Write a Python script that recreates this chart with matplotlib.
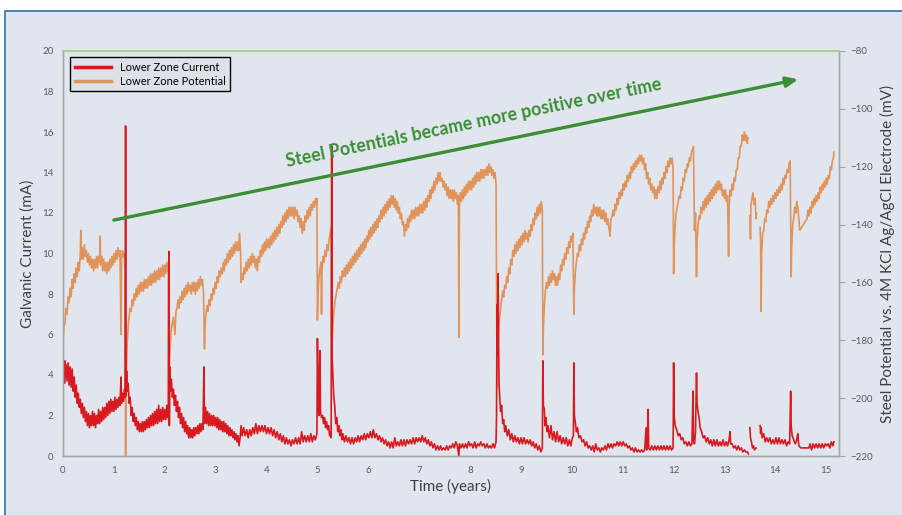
import numpy as np
import matplotlib
matplotlib.use("Agg")
import matplotlib.pyplot as plt
from matplotlib.patches import Rectangle

plt.rcParams["font.family"] = ["Lato", "DejaVu Sans"]

nan = np.nan

# lower zone potential (mV vs Ag/AgCl)
pot_years = [
    0.00, 0.02, 0.04, 0.06, 0.08, 0.10, 0.12, 0.14, 0.16, 0.18, 0.20, 0.22, 0.24, 0.26, 0.28, 0.30, 0.32, 0.34, 0.35, 0.36,
    0.38, 0.40, 0.42, 0.44, 0.46, 0.48, 0.50, 0.52, 0.54, 0.56, 0.58, 0.60, 0.62, 0.64, 0.66, 0.68, 0.70, 0.72, 0.73, 0.74,
    0.76, 0.78, 0.80, 0.82, 0.84, 0.86, 0.88, 0.90, 0.92, 0.94, 0.96, 0.98, 1.00, 1.02, 1.04, 1.06, 1.08, 1.10, 1.12, 1.14,
    1.15, 1.17, 1.18, 1.20, 1.22, 1.23, 1.24, 1.26, 1.28, 1.30, 1.32, 1.34, 1.36, 1.38, 1.40, 1.42, 1.44, 1.46, 1.48, 1.50,
    1.52, 1.54, 1.56, 1.58, 1.60, 1.62, 1.64, 1.66, 1.68, 1.70, 1.72, 1.74, 1.76, 1.78, 1.80, 1.82, 1.84, 1.86, 1.88, 1.90,
    1.92, 1.94, 1.96, 1.98, 2.00, 2.02, 2.04, 2.06, 2.07, 2.08, 2.09, 2.11, 2.13, 2.15, 2.17, 2.19, 2.20, 2.22, 2.24, 2.26,
    2.28, 2.30, 2.32, 2.34, 2.36, 2.38, 2.40, 2.42, 2.44, 2.46, 2.48, 2.50, 2.52, 2.54, 2.56, 2.58, 2.60, 2.62, 2.64, 2.66,
    2.68, 2.70, 2.72, 2.74, 2.76, 2.78, 2.79, 2.81, 2.83, 2.85, 2.87, 2.89, 2.91, 2.93, 2.95, 2.97, 2.99, 3.01, 3.03, 3.05,
    3.07, 3.09, 3.11, 3.13, 3.15, 3.17, 3.19, 3.21, 3.23, 3.25, 3.27, 3.29, 3.31, 3.33, 3.35, 3.37, 3.39, 3.41, 3.43, 3.45,
    3.47, 3.49, 3.50, 3.52, 3.54, 3.56, 3.58, 3.60, 3.62, 3.64, 3.66, 3.68, 3.70, 3.72, 3.74, 3.76, 3.78, 3.80, 3.82, 3.84,
    3.86, 3.88, 3.90, 3.92, 3.94, 3.96, 3.98, 4.00, 4.02, 4.04, 4.06, 4.08, 4.10, 4.12, 4.14, 4.16, 4.18, 4.20, 4.22, 4.24,
    4.26, 4.28, 4.30, 4.32, 4.34, 4.36, 4.38, 4.40, 4.42, 4.44, 4.46, 4.48, 4.50, 4.52, 4.54, 4.56, 4.58, 4.60, 4.62, 4.64,
    4.66, 4.68, 4.70, 4.72, 4.74, 4.76, 4.78, 4.80, 4.82, 4.84, 4.86, 4.88, 4.90, 4.92, 4.94, 4.96, 4.98, 4.99, 5.00, 5.01,
    5.03, 5.05, 5.07, 5.08, 5.09, 5.11, 5.13, 5.15, 5.17, 5.19, 5.21, 5.23, 5.25, 5.27, 5.28, 5.29, 5.31, 5.33, 5.35, 5.37,
    5.39, 5.41, 5.43, 5.45, 5.47, 5.49, 5.51, 5.53, 5.55, 5.57, 5.59, 5.61, 5.63, 5.65, 5.67, 5.69, 5.71, 5.73, 5.75, 5.77,
    5.79, 5.81, 5.83, 5.85, 5.87, 5.89, 5.91, 5.93, 5.95, 5.97, 5.99, 6.01, 6.03, 6.05, 6.07, 6.09, 6.11, 6.13, 6.15, 6.17,
    6.19, 6.21, 6.23, 6.25, 6.27, 6.29, 6.31, 6.33, 6.35, 6.37, 6.39, 6.41, 6.43, 6.45, 6.47, 6.49, 6.51, 6.53, 6.55, 6.57,
    6.59, 6.61, 6.63, 6.65, 6.67, 6.69, 6.71, 6.73, 6.75, 6.77, 6.79, 6.81, 6.83, 6.85, 6.87, 6.89, 6.91, 6.93, 6.95, 6.97,
    6.99, 7.01, 7.03, 7.05, 7.07, 7.09, 7.11, 7.13, 7.15, 7.17, 7.19, 7.21, 7.23, 7.25, 7.27, 7.29, 7.31, 7.33, 7.35, 7.37,
    7.39, 7.41, 7.43, 7.45, 7.47, 7.49, 7.51, 7.53, 7.55, 7.57, 7.59, 7.61, 7.63, 7.65, 7.67, 7.69, 7.71, 7.73, 7.75, 7.77,
    7.78, 7.79, 7.81, 7.83, 7.85, 7.87, 7.89, 7.91, 7.93, 7.95, 7.97, 7.99, 8.01, 8.03, 8.05, 8.07, 8.09, 8.11, 8.13, 8.15,
    8.17, 8.19, 8.21, 8.23, 8.25, 8.27, 8.29, 8.31, 8.33, 8.35, 8.37, 8.39, 8.41, 8.43, 8.45, 8.47, 8.49, 8.51, 8.53, 8.54,
    8.56, 8.58, 8.60, 8.62, 8.64, 8.66, 8.68, 8.70, 8.72, 8.74, 8.76, 8.78, 8.80, 8.82, 8.84, 8.86, 8.88, 8.90, 8.92, 8.94,
    8.96, 8.98, 9.00, 9.02, 9.04, 9.06, 9.08, 9.10, 9.12, 9.14, 9.16, 9.18, 9.20, 9.22, 9.24, 9.26, 9.28, 9.30, 9.32, 9.34,
    9.36, 9.38, 9.40, 9.42, 9.43, 9.44, 9.46, 9.48, 9.50, 9.52, 9.54, 9.56, 9.58, 9.60, 9.62, 9.64, 9.66, 9.68, 9.70, 9.72,
    9.74, 9.76, 9.78, 9.80, 9.82, 9.84, 9.86, 9.88, 9.90, 9.92, 9.94, 9.96, 9.98, 10.00, 10.02, 10.04, 10.05, 10.07, 10.09, 10.11,
    10.13, 10.15, 10.17, 10.19, 10.21, 10.23, 10.25, 10.27, 10.29, 10.31, 10.33, 10.35, 10.37, 10.39, 10.41, 10.43, 10.45, 10.47, 10.49, 10.51,
    10.53, 10.55, 10.57, 10.59, 10.61, 10.63, 10.65, 10.67, 10.69, 10.71, 10.73, 10.75, 10.77, 10.79, 10.81, 10.83, 10.85, 10.87, 10.89, 10.91,
    10.93, 10.95, 10.97, 10.99, 11.01, 11.03, 11.05, 11.07, 11.09, 11.11, 11.13, 11.15, 11.17, 11.19, 11.21, 11.23, 11.25, 11.27, 11.29, 11.31,
    11.33, 11.35, 11.37, 11.39, 11.41, 11.43, 11.45, 11.47, 11.49, 11.51, 11.53, 11.55, 11.57, 11.59, 11.61, 11.63, 11.65, 11.67, 11.69, 11.71,
    11.73, 11.75, 11.77, 11.79, 11.81, 11.83, 11.85, 11.87, 11.89, 11.91, 11.93, 11.95, 11.97, 11.99, 12.00, 12.01, 12.03, 12.05, 12.07, 12.09,
    12.11, 12.13, 12.15, 12.17, 12.19, 12.21, 12.23, 12.25, 12.27, 12.29, 12.31, 12.33, 12.35, 12.37, 12.39, 12.41, 12.43, 12.45, 12.46, 12.48,
    12.50, 12.52, 12.54, 12.56, 12.58, 12.60, 12.62, 12.64, 12.66, 12.68, 12.70, 12.72, 12.74, 12.76, 12.78, 12.80, 12.82, 12.84, 12.86, 12.88,
    12.90, 12.92, 12.94, 12.96, 12.98, 13.00, 13.02, 13.04, 13.06, 13.08, 13.09, 13.11, 13.13, 13.15, 13.17, 13.19, 13.21, 13.23, 13.25, 13.27,
    13.29, 13.31, 13.33, 13.35, 13.37, 13.39, 13.41, 13.43, 13.45, 13.46, 13.48,
    13.50, 13.51, 13.52, 13.54, 13.56, 13.58, 13.60, 13.62, 13.63, 13.66,
    13.70, 13.71, 13.72, 13.73, 13.75, 13.77, 13.79, 13.81, 13.83, 13.85, 13.87, 13.89, 13.91, 13.93, 13.95, 13.97, 13.99, 14.01, 14.03, 14.05,
    14.07, 14.09, 14.11, 14.13, 14.15, 14.17, 14.19, 14.21, 14.23, 14.25, 14.27, 14.29, 14.31, 14.32, 14.34, 14.36, 14.38, 14.40, 14.42, 14.44,
    14.46, 14.48, 14.62, 14.64, 14.66, 14.68, 14.70, 14.72, 14.74, 14.76, 14.78, 14.80, 14.82, 14.84, 14.86, 14.88, 14.90, 14.92, 14.94, 14.96,
    14.98, 15.00, 15.02, 15.04, 15.06, 15.08, 15.10, 15.12, 15.14, 15.15,
]
pot_mv = [
    -180, -175, -174, -169, -171, -165, -167, -162, -165, -159, -162, -157, -160, -155, -158, -153, -156, -150, -142, -152,
    -148, -152, -147, -151, -149, -153, -150, -154, -151, -155, -152, -156, -152, -155, -151, -155, -151, -153, -144, -154,
    -151, -156, -152, -156, -153, -157, -153, -156, -152, -155, -151, -154, -150, -153, -149, -152, -148, -151, -149, -178,
    -152, -149, -151, -150, -157, -220, -196, -182, -175, -172, -169, -170, -166, -168, -164, -166, -162, -165, -161, -164,
    -160, -163, -160, -163, -159, -162, -159, -162, -158, -161, -157, -161, -157, -160, -156, -160, -156, -159, -155, -159,
    -155, -158, -154, -158, -154, -157, -153, -156, -154, -209, -190, -181, -176, -174, -172, -176, -178, -170, -169, -166,
    -169, -165, -167, -163, -166, -162, -165, -161, -164, -160, -163, -161, -164, -160, -163, -160, -164, -160, -163, -159,
    -162, -158, -161, -159, -163, -183, -176, -171, -168, -170, -166, -168, -164, -166, -162, -164, -160, -162, -158, -160,
    -156, -158, -155, -157, -153, -156, -152, -154, -150, -153, -149, -152, -148, -151, -147, -150, -146, -149, -146, -149,
    -143, -150, -160, -157, -159, -155, -157, -153, -156, -152, -155, -151, -154, -150, -153, -151, -155, -152, -156, -151,
    -153, -149, -151, -147, -150, -146, -149, -145, -148, -145, -148, -144, -147, -143, -146, -142, -145, -141, -144, -140,
    -143, -139, -141, -137, -140, -136, -139, -135, -138, -134, -137, -134, -137, -134, -138, -134, -137, -135, -139, -137,
    -141, -138, -143, -139, -142, -137, -139, -135, -138, -134, -137, -133, -135, -132, -134, -131, -133, -131, -173, -165,
    -158, -155, -153, -171, -156, -151, -153, -149, -151, -147, -149, -145, -143, -141, -188, -180, -173, -169, -166, -164,
    -162, -160, -162, -158, -160, -156, -158, -155, -158, -154, -157, -153, -156, -152, -155, -151, -154, -150, -153, -149,
    -152, -148, -151, -147, -150, -146, -149, -145, -148, -144, -146, -142, -145, -141, -144, -140, -143, -139, -142, -138,
    -141, -137, -139, -135, -138, -134, -137, -133, -136, -132, -135, -131, -134, -130, -133, -130, -134, -131, -135, -132,
    -136, -134, -138, -136, -140, -139, -144, -140, -142, -138, -141, -137, -139, -135, -138, -135, -138, -134, -137, -134,
    -137, -133, -136, -133, -136, -132, -135, -131, -134, -130, -132, -128, -131, -127, -129, -125, -128, -124, -126, -122,
    -125, -122, -125, -124, -127, -125, -128, -126, -130, -127, -131, -128, -131, -128, -132, -128, -131, -129, -133, -130,
    -179, -134, -129, -132, -128, -131, -127, -130, -126, -129, -125, -128, -125, -128, -124, -127, -123, -126, -122, -125,
    -122, -125, -121, -124, -121, -124, -121, -123, -120, -123, -119, -122, -120, -123, -121, -124, -122, -126, -196, -185,
    -177, -172, -169, -166, -163, -165, -161, -162, -158, -160, -155, -157, -152, -154, -149, -151, -147, -150, -146, -149,
    -145, -148, -144, -147, -143, -146, -142, -145, -143, -146, -142, -144, -140, -142, -138, -140, -136, -138, -134, -137,
    -133, -136, -132, -135, -185, -176, -168, -163, -160, -162, -158, -161, -157, -160, -156, -159, -157, -161, -158, -161,
    -157, -159, -154, -156, -152, -154, -150, -152, -148, -150, -146, -148, -144, -146, -143, -171, -162, -156, -153, -150,
    -151, -147, -149, -145, -147, -143, -145, -141, -143, -139, -141, -137, -139, -135, -137, -133, -136, -134, -137, -134,
    -137, -134, -138, -135, -138, -135, -139, -136, -140, -138, -141, -144, -138, -137, -135, -137, -133, -135, -131, -133,
    -129, -131, -128, -130, -126, -128, -125, -127, -123, -125, -122, -124, -120, -122, -119, -121, -118, -120, -117, -119,
    -116, -118, -116, -119, -117, -121, -119, -124, -122, -126, -124, -128, -126, -129, -127, -131, -128, -131, -127, -129,
    -125, -128, -124, -126, -122, -124, -120, -122, -118, -120, -117, -119, -117, -121, -157, -148, -140, -136, -134, -132,
    -130, -131, -127, -128, -124, -125, -121, -122, -119, -120, -117, -118, -115, -114, -113, -142, -136, -158, -146, -140,
    -137, -138, -134, -136, -132, -135, -131, -134, -130, -133, -129, -132, -128, -131, -127, -130, -126, -129, -125, -128,
    -125, -128, -126, -130, -128, -131, -128, -132, -130, -151, -134, -128, -130, -126, -128, -124, -125, -121, -121, -117,
    -117, -113, -113, -109, -111, -108, -111, -109, -112, -110, nan,
    -137, -145, -133, -131, -129, -133, -131, -138, -136, nan,
    -141, -147, -170, -150, -143, -142, -138, -139, -135, -136, -132, -134, -131, -133, -130, -132, -129, -131, -128, -130,
    -127, -129, -126, -128, -124, -126, -123, -124, -121, -122, -119, -118, -158, -148, -140, -138, -134, -136, -132, -134,
    -138, -142, -138, -135, -137, -134, -136, -132, -134, -131, -133, -130, -132, -129, -131, -127, -129, -126, -128, -125,
    -127, -124, -126, -123, -124, -120, -121, -118, -117, -115,
]

# lower zone galvanic current (mA)
cur_years = [
    0.00, 0.01, 0.02, 0.03, 0.04, 0.05, 0.06, 0.08, 0.10, 0.12, 0.14, 0.16, 0.18, 0.20, 0.22, 0.24, 0.26, 0.28, 0.30, 0.32,
    0.34, 0.36, 0.38, 0.40, 0.42, 0.44, 0.46, 0.48, 0.50, 0.52, 0.54, 0.56, 0.58, 0.60, 0.62, 0.64, 0.66, 0.68, 0.70, 0.72,
    0.74, 0.76, 0.78, 0.80, 0.82, 0.84, 0.86, 0.88, 0.90, 0.92, 0.94, 0.96, 0.98, 1.00, 1.02, 1.04, 1.06, 1.08, 1.10, 1.12,
    1.14, 1.15, 1.17, 1.19, 1.21, 1.22, 1.23, 1.24, 1.25, 1.26, 1.28, 1.30, 1.32, 1.34, 1.36, 1.38, 1.40, 1.42, 1.44, 1.46,
    1.48, 1.50, 1.52, 1.54, 1.56, 1.58, 1.60, 1.62, 1.64, 1.66, 1.68, 1.70, 1.72, 1.74, 1.76, 1.78, 1.80, 1.82, 1.84, 1.86,
    1.88, 1.90, 1.92, 1.94, 1.96, 1.98, 2.00, 2.02, 2.04, 2.06, 2.07, 2.08, 2.09, 2.10, 2.11, 2.13, 2.15, 2.17, 2.19, 2.21,
    2.23, 2.25, 2.27, 2.29, 2.31, 2.33, 2.35, 2.37, 2.39, 2.41, 2.43, 2.45, 2.47, 2.49, 2.51, 2.53, 2.55, 2.57, 2.59, 2.61,
    2.63, 2.65, 2.67, 2.69, 2.71, 2.73, 2.75, 2.77, 2.78, 2.80, 2.82, 2.84, 2.86, 2.88, 2.90, 2.92, 2.94, 2.96, 2.98, 3.00,
    3.02, 3.04, 3.06, 3.08, 3.10, 3.12, 3.14, 3.16, 3.18, 3.20, 3.22, 3.24, 3.26, 3.28, 3.30, 3.32, 3.34, 3.36, 3.38, 3.40,
    3.42, 3.44, 3.46, 3.48, 3.50, 3.52, 3.55, 3.58, 3.61, 3.64, 3.67, 3.70, 3.73, 3.76, 3.79, 3.82, 3.85, 3.88, 3.91, 3.94,
    3.97, 4.00, 4.03, 4.06, 4.09, 4.12, 4.15, 4.18, 4.21, 4.24, 4.27, 4.30, 4.33, 4.36, 4.39, 4.42, 4.45, 4.48, 4.51, 4.54,
    4.57, 4.60, 4.63, 4.66, 4.69, 4.72, 4.75, 4.78, 4.81, 4.84, 4.87, 4.90, 4.93, 4.96, 4.99, 5.00, 5.02, 5.03, 5.05, 5.06,
    5.08, 5.10, 5.12, 5.14, 5.16, 5.18, 5.20, 5.22, 5.24, 5.26, 5.27, 5.28, 5.29, 5.30, 5.32, 5.34, 5.36, 5.38, 5.40, 5.42,
    5.44, 5.46, 5.48, 5.50, 5.53, 5.56, 5.59, 5.62, 5.65, 5.68, 5.71, 5.74, 5.77, 5.80, 5.83, 5.86, 5.89, 5.92, 5.95, 5.98,
    6.01, 6.04, 6.07, 6.10, 6.13, 6.16, 6.19, 6.22, 6.25, 6.28, 6.31, 6.34, 6.37, 6.40, 6.43, 6.46, 6.49, 6.52, 6.55, 6.58,
    6.61, 6.64, 6.67, 6.70, 6.73, 6.76, 6.79, 6.82, 6.85, 6.88, 6.91, 6.94, 6.97, 7.00, 7.03, 7.06, 7.09, 7.12, 7.15, 7.18,
    7.21, 7.24, 7.27, 7.30, 7.33, 7.36, 7.39, 7.42, 7.45, 7.48, 7.51, 7.54, 7.57, 7.60, 7.63, 7.66, 7.69, 7.72, 7.75, 7.78,
    7.79, 7.82, 7.85, 7.88, 7.91, 7.94, 7.97, 8.00, 8.03, 8.06, 8.09, 8.12, 8.15, 8.18, 8.21, 8.24, 8.27, 8.30, 8.33, 8.36,
    8.39, 8.42, 8.45, 8.48, 8.51, 8.52, 8.53, 8.54, 8.55, 8.56, 8.57, 8.58, 8.60, 8.62, 8.64, 8.66, 8.68, 8.70, 8.73, 8.76,
    8.79, 8.82, 8.85, 8.88, 8.91, 8.94, 8.97, 9.00, 9.03, 9.06, 9.09, 9.12, 9.15, 9.18, 9.21, 9.24, 9.27, 9.30, 9.33, 9.36,
    9.39, 9.42, 9.43, 9.44, 9.46, 9.47, 9.49, 9.51, 9.53, 9.56, 9.59, 9.62, 9.65, 9.68, 9.71, 9.74, 9.77, 9.80, 9.83, 9.86,
    9.89, 9.92, 9.95, 9.98, 10.01, 10.03, 10.04, 10.05, 10.07, 10.09, 10.11, 10.14, 10.17, 10.20, 10.23, 10.26, 10.29, 10.32, 10.35, 10.38,
    10.41, 10.44, 10.47, 10.50, 10.53, 10.56, 10.59, 10.62, 10.65, 10.68, 10.71, 10.74, 10.77, 10.80, 10.83, 10.86, 10.89, 10.92, 10.95, 10.98,
    11.01, 11.04, 11.07, 11.10, 11.13, 11.16, 11.19, 11.22, 11.25, 11.28, 11.31, 11.34, 11.37, 11.40, 11.43, 11.46, 11.47, 11.49, 11.50, 11.51,
    11.54, 11.57, 11.60, 11.63, 11.66, 11.69, 11.72, 11.75, 11.78, 11.81, 11.84, 11.87, 11.90, 11.93, 11.96, 11.99, 12.00, 12.01, 12.03, 12.06,
    12.09, 12.12, 12.15, 12.18, 12.21, 12.24, 12.27, 12.30, 12.33, 12.36, 12.38, 12.39, 12.41, 12.43, 12.45, 12.46, 12.48, 12.50, 12.52, 12.55,
    12.58, 12.61, 12.64, 12.67, 12.70, 12.73, 12.76, 12.79, 12.82, 12.85, 12.88, 12.91, 12.94, 12.97, 13.00, 13.03, 13.06, 13.09, 13.11, 13.12,
    13.15, 13.18, 13.21, 13.24, 13.27, 13.30, 13.33, 13.36, 13.39, 13.42, 13.45, 13.47, 13.48,
    13.50, 13.51, 13.53, 13.55, 13.57, 13.59, 13.62, 13.66,
    13.70, 13.71, 13.72, 13.74, 13.77, 13.80, 13.83, 13.86, 13.89, 13.92, 13.95, 13.98, 14.01, 14.04, 14.07, 14.10, 14.13, 14.16, 14.19, 14.22,
    14.25, 14.28, 14.30, 14.31, 14.33, 14.36, 14.39, 14.42, 14.44, 14.46, 14.50, 14.66, 14.68, 14.71, 14.74, 14.77, 14.80, 14.83, 14.86, 14.89,
    14.92, 14.95, 14.98, 15.01, 15.04, 15.07, 15.10, 15.13, 15.15,
]
cur_ma = [
    4.9, 3.8, 4.6, 3.6, 4.7, 3.9, 4.5, 3.7, 4.6, 3.5, 4.4, 3.4, 4.3, 3.2, 3.9, 2.9, 3.5, 2.6, 3.1, 2.4,
    2.8, 2.1, 2.6, 1.9, 2.4, 1.7, 2.2, 1.5, 2.1, 1.4, 2.0, 1.5, 2.2, 1.5, 2.1, 1.4, 2.0, 1.6, 2.3, 1.6,
    2.2, 1.7, 2.4, 1.8, 2.4, 1.9, 2.6, 2.0, 2.7, 2.1, 2.8, 2.2, 2.7, 2.2, 2.9, 2.3, 2.8, 2.4, 2.9, 2.5,
    3.9, 2.6, 3.1, 2.7, 3.3, 2.9, 16.3, 3.0, 4.2, 3.2, 3.6, 2.6, 2.9, 2.0, 2.4, 1.7, 2.1, 1.5, 1.9, 1.3,
    1.7, 1.2, 1.6, 1.2, 1.7, 1.2, 1.7, 1.3, 1.8, 1.4, 1.9, 1.4, 2.0, 1.5, 2.1, 1.5, 2.2, 1.6, 2.3, 1.6,
    2.5, 1.7, 2.3, 1.7, 2.4, 1.8, 2.3, 1.8, 2.5, 1.9, 2.6, 10.1, 1.5, 4.4, 3.2, 3.8, 2.9, 3.3, 2.5, 3.0,
    2.2, 2.7, 1.9, 2.4, 1.6, 2.1, 1.4, 1.9, 1.2, 1.7, 1.1, 1.5, 0.9, 1.4, 0.9, 1.3, 0.9, 1.4, 1.0, 1.4,
    1.1, 1.5, 1.1, 1.6, 1.2, 1.6, 1.3, 4.4, 1.6, 2.4, 1.6, 2.2, 1.5, 2.1, 1.5, 2.0, 1.5, 2.0, 1.5, 1.9,
    1.4, 1.9, 1.3, 1.8, 1.3, 1.7, 1.2, 1.7, 1.2, 1.6, 1.1, 1.5, 1.0, 1.4, 1.0, 1.3, 0.9, 1.2, 0.8, 1.1,
    0.7, 1.0, 0.5, 0.9, 1.5, 1.0, 1.4, 1.0, 1.3, 0.9, 1.3, 1.0, 1.4, 1.1, 1.6, 1.1, 1.5, 1.2, 1.5, 1.2,
    1.5, 1.1, 1.4, 1.1, 1.4, 1.0, 1.3, 0.9, 1.2, 0.8, 1.1, 0.7, 1.0, 0.6, 0.9, 0.6, 0.8, 0.5, 0.8, 0.6,
    0.9, 0.6, 0.9, 0.6, 1.2, 0.7, 1.0, 0.7, 1.0, 0.7, 1.1, 0.7, 1.0, 0.8, 1.1, 5.8, 2.4, 2.0, 5.2, 2.2,
    1.9, 2.0, 1.6, 1.9, 1.4, 1.7, 1.3, 1.5, 1.0, 1.2, 0.9, 15.3, 4.8, 4.2, 3.0, 2.5, 1.6, 1.9, 1.2, 1.5,
    1.0, 1.3, 0.8, 1.1, 0.7, 1.0, 0.7, 0.9, 0.6, 0.9, 0.6, 0.9, 0.7, 1.0, 0.7, 1.0, 0.8, 1.1, 0.8, 1.1,
    0.9, 1.2, 0.9, 1.3, 0.9, 1.1, 0.8, 1.0, 0.7, 0.9, 0.6, 0.8, 0.5, 0.7, 0.4, 0.7, 0.4, 0.9, 0.5, 0.7,
    0.5, 0.8, 0.5, 0.8, 0.5, 0.8, 0.6, 0.8, 0.6, 0.9, 0.6, 0.9, 0.7, 0.9, 0.7, 1.0, 0.7, 0.9, 0.6, 0.8,
    0.5, 0.7, 0.4, 0.6, 0.3, 0.5, 0.3, 0.5, 0.3, 0.4, 0.3, 0.5, 0.3, 0.5, 0.4, 0.6, 0.4, 0.7, 0.5, 0.0,
    0.6, 0.4, 0.6, 0.4, 0.6, 0.4, 0.7, 0.5, 0.6, 0.4, 0.7, 0.4, 0.6, 0.5, 0.7, 0.5, 0.6, 0.4, 0.6, 0.4,
    0.5, 0.4, 0.6, 0.4, 0.7, 2.0, 7.5, 5.0, 9.0, 5.5, 3.5, 3.0, 2.2, 2.5, 1.6, 1.8, 1.2, 1.5, 1.0, 1.3,
    0.8, 1.1, 0.7, 1.0, 0.7, 0.9, 0.6, 0.9, 0.6, 0.9, 0.6, 0.8, 0.6, 0.8, 0.5, 0.7, 0.4, 0.6, 0.3, 0.5,
    0.2, 0.4, 4.7, 2.5, 2.3, 1.5, 1.9, 1.2, 1.5, 0.9, 1.5, 0.8, 1.2, 0.7, 1.2, 0.7, 1.0, 0.6, 0.9, 0.6,
    0.9, 0.5, 0.8, 0.5, 0.9, 1.0, 4.6, 2.0, 1.6, 1.2, 1.4, 0.9, 1.0, 0.7, 0.8, 0.5, 0.7, 0.4, 0.5, 0.3,
    0.5, 0.2, 0.6, 0.3, 0.4, 0.2, 0.4, 0.3, 0.5, 0.3, 0.6, 0.4, 0.6, 0.4, 0.6, 0.5, 0.7, 0.5, 0.7, 0.5,
    0.7, 0.5, 0.6, 0.4, 0.5, 0.3, 0.4, 0.2, 0.4, 0.2, 0.3, 0.2, 0.3, 0.2, 0.3, 1.4, 0.3, 0.4, 2.3, 0.4,
    0.3, 0.5, 0.3, 0.5, 0.3, 0.5, 0.3, 0.5, 0.3, 0.5, 0.3, 0.5, 0.3, 0.5, 0.3, 0.4, 4.6, 2.0, 1.5, 1.3,
    1.0, 1.1, 0.8, 0.9, 0.6, 0.7, 0.5, 0.7, 0.5, 0.6, 3.2, 0.8, 0.6, 1.2, 4.1, 2.6, 2.2, 1.9, 1.4, 1.2,
    0.9, 1.0, 0.7, 0.9, 0.6, 0.8, 0.5, 0.8, 0.5, 0.8, 0.5, 0.7, 0.5, 0.8, 0.5, 0.7, 0.5, 0.8, 1.2, 0.6,
    0.6, 0.4, 0.5, 0.3, 0.5, 0.3, 0.4, 0.2, 0.3, 0.2, 0.2, 0.1, nan,
    1.4, 0.9, 0.7, 0.4, 0.5, 0.3, 0.4, nan,
    1.5, 1.1, 1.4, 0.9, 1.1, 0.7, 0.9, 0.7, 0.9, 0.6, 0.8, 0.6, 0.9, 0.6, 0.9, 0.6, 0.8, 0.6, 0.8, 0.5,
    0.7, 0.6, 3.2, 1.5, 1.0, 0.8, 0.6, 0.8, 1.1, 0.5, 0.4, 0.4, 0.6, 0.3, 0.6, 0.4, 0.6, 0.4, 0.6, 0.4,
    0.6, 0.4, 0.6, 0.5, 0.6, 0.4, 0.7, 0.5, 0.7,
]

year_ticks = list(range(0, 16))
current_ticks = list(range(0, 21, 2))
potential_ticks = list(range(-220, -79, 20))

red = "#d81920"
orange = "#e0935a"
green = "#3b8e35"
label_col = "#404040"
tick_col = "#595959"

fig = plt.figure(figsize=(9.02, 5.15), dpi=100, facecolor="white")
# panel background with blue frame (kept behind both axes)
fig.patches.append(Rectangle((5 / 902, -0.05), 1.0, 0.05 + (515 - 11) / 515,
                             transform=fig.transFigure, facecolor="#e1e6ee",
                             edgecolor="#3570a8", linewidth=1.2, zorder=-5))

ax = fig.add_axes([63 / 902, 59 / 515, 776 / 902, 405 / 515])
ax2 = ax.twinx()
ax.set_zorder(ax2.get_zorder() + 1)
ax.patch.set_visible(False)
ax2.patch.set_visible(False)

ax2.plot(pot_years, pot_mv, color=orange, lw=1.2, label="Lower Zone Potential")
ax.plot(cur_years, cur_ma, color=red, lw=1.2, label="Lower Zone Current")

ax.set_xlim(0, 15.25)
ax.set_ylim(0, 20)
ax2.set_ylim(-220, -80)
ax.set_xticks(year_ticks)
ax.set_yticks(current_ticks)
ax2.set_yticks(potential_ticks)
ax2.set_xticks(year_ticks)
ax2.grid(axis="x", color="#c4c8cf", lw=1.0)
ax2.set_axisbelow(True)

ax.tick_params(axis="both", length=0, labelsize=7, labelcolor=tick_col, pad=7)
ax2.tick_params(axis="y", length=4, width=0.8, color="#a6a6a6", labelsize=7,
                labelcolor=tick_col, pad=4)

for a in (ax, ax2):
    for s in ("left", "bottom", "right"):
        a.spines[s].set_color("#a6a6a6")
        a.spines[s].set_linewidth(1.0)
    a.spines["top"].set_color("#a9d18e")
    a.spines["top"].set_linewidth(1.2)

ax.set_xlabel("Time (years)", fontsize=11, color=label_col, labelpad=3)
ax.set_ylabel("Galvanic Current (mA)", fontsize=11, color=label_col, labelpad=5)
ax2.set_ylabel("Steel Potential vs. 4M KCl Ag/AgCl Electrode (mV)", fontsize=11,
               color=label_col, labelpad=5)

# trend arrow and its note
ax.annotate("", xy=(14.45, 18.6), xytext=(1.0, 11.65),
            arrowprops=dict(arrowstyle="-|>,head_length=0.7,head_width=0.3",
                            color=green, lw=2.4, shrinkA=0, shrinkB=0))
ax.text(8.07, 16.45, "Steel Potentials became more positive over time",
        color=green, fontsize=12.8, fontweight="bold", rotation=11.7,
        ha="center", va="center", rotation_mode="anchor")

h1, l1 = ax.get_legend_handles_labels()
h2, l2 = ax2.get_legend_handles_labels()
leg = ax.legend(h1 + h2, l1 + l2, loc="upper left", bbox_to_anchor=(0.002, 0.998),
                fontsize=8, frameon=True, fancybox=False, handlelength=3.3,
                borderpad=0.4, labelspacing=0.25)
leg.get_frame().set_edgecolor("black")
leg.get_frame().set_facecolor("#dde1e8")
leg.get_frame().set_linewidth(1.0)
leg.get_frame().set_alpha(1)
for line in leg.get_lines():
    line.set_linewidth(2.5)

fig.savefig("out.png", dpi=100, facecolor=fig.get_facecolor())
